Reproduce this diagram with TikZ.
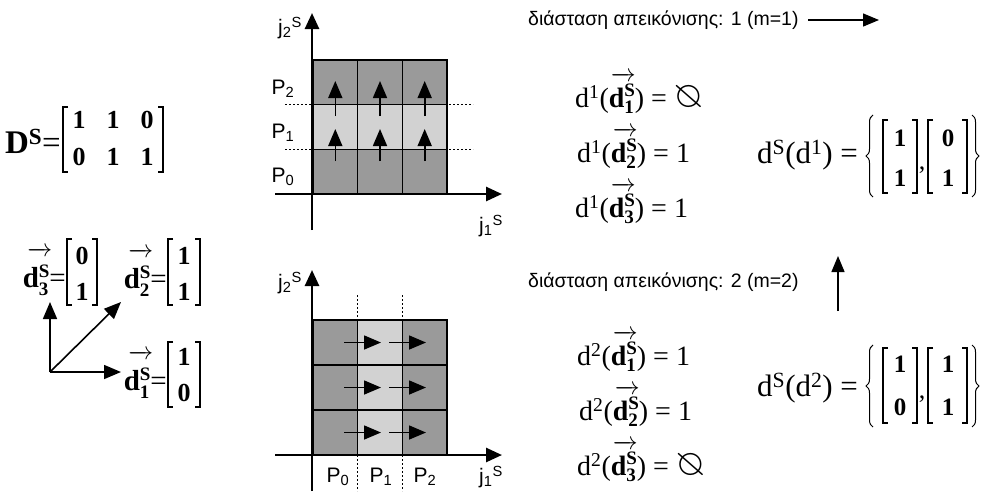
\documentclass[tikz,border=0pt]{standalone}
\usepackage{amssymb,graphicx}
\usepackage{fontspec}
\setmainfont{Liberation Serif}
\setsansfont{Liberation Sans}
\usetikzlibrary{arrows.meta,decorations.pathreplacing}
\definecolor{darkg}{HTML}{9A9A9A}
\definecolor{lightg}{HTML}{D2D2D2}
% vector d with arrow: #1 arrow x-offset, #2 arrow raise, #3 arrow width, #4 sup raise, #5 sub lower, #6 index
\newcommand\vd[6]{\leavevmode\rlap{\hspace{#1}\raisebox{#2}{\fontsize{24}{24}\selectfont\makebox[#3]{\rightarrowfill}}}\textbf{d}\rlap{\raisebox{#4}{\fontsize{19}{19}\selectfont\bfseries S}}\rlap{\raisebox{-#5}{\fontsize{19}{19}\selectfont\bfseries #6}}\hspace{10.5pt}}
\newcommand\nulls{\scalebox{1.35}{\reflectbox{$\varnothing$}}}
\tikzset{
  gridl/.style={line width=1.6pt},
  axisl/.style={line width=2.6pt,-{Triangle[length=16pt,width=14pt]}},
  cellar/.style={line width=1.6pt,-{Triangle[length=17pt,width=14pt]}},
  bigar/.style={line width=1.4pt,-{Triangle[length=16pt,width=13pt]}},
  dots/.style={dash pattern=on 2pt off 2pt,line width=1.6pt},
  brk/.style={line width=1.1pt},
  brc/.style={line width=1.0pt,decorate,decoration={brace,amplitude=7pt}},
  lab/.style={font=\sffamily\fontsize{21}{24}\selectfont,inner sep=0pt},
  grk/.style={font=\sffamily\fontsize{19.5}{23}\selectfont,inner sep=0pt,anchor=west},
  eq/.style={font=\fontsize{28}{32}\selectfont,inner sep=0pt,anchor=west},
  seq/.style={font=\fontsize{31}{35}\selectfont,inner sep=0pt,anchor=west},
  ent/.style={font=\bfseries\fontsize{26}{30}\selectfont,inner sep=0pt},
  sent/.style={font=\bfseries\fontsize{25}{28}\selectfont,inner sep=0pt},
  vlab/.style={font=\fontsize{29}{33}\selectfont,inner sep=0pt,anchor=east},
}
\newcommand\lbrk[3]{\draw[brk] (#1+5,#2) -- (#1,#2) -- (#1,#3) -- (#1+5,#3);}
\newcommand\rbrk[3]{\draw[brk] (#1-5,#2) -- (#1,#2) -- (#1,#3) -- (#1-5,#3);}
\newcommand\rvd[1]{\vd{3pt}{26pt}{23pt}{11pt}{6pt}{#1}}
\newcommand\lvd[1]{\vd{7pt}{31pt}{20pt}{10pt}{8pt}{#1}}
\begin{document}
\begin{tikzpicture}[x=1pt,y=-1pt]
\useasboundingbox (0,0) rectangle (984,491);
% ---------- top grid ----------
\fill[darkg] (313,60) rectangle (447,194);
\fill[lightg] (313,104.67) rectangle (447,149.33);
\draw[dots] (285,104.67) -- (473,104.67);
\draw[dots] (285,149.33) -- (473,149.33);
\draw[gridl] (313,60) rectangle (447,194);
\foreach \x in {357.67,402.33} \draw[gridl] (\x,60) -- (\x,194);
\foreach \y in {104.67,149.33} \draw[gridl] (313,\y) -- (447,\y);
\foreach \x in {335.3,380,424.7}{
  \draw[cellar] (\x,161) -- (\x,129);
  \draw[cellar] (\x,116) -- (\x,81);
}
\draw[axisl] (275,194) -- (502,194);
\draw[axisl] (312,230) -- (312,13);
\node[lab] (j2a) at (290,28) {j\textsubscript{2}\textsuperscript{S}};
\node[lab] (j1a) at (491,226) {j\textsubscript{1}\textsuperscript{S}};
\node[lab] (p2a) at (283,89) {P\textsubscript{2}};
\node[lab] (p1a) at (283,133) {P\textsubscript{1}};
\node[lab] (p0a) at (283,177) {P\textsubscript{0}};
% ---------- bottom grid ----------
\fill[darkg] (313,320) rectangle (447,455);
\fill[lightg] (357.67,320) rectangle (402.33,455);
\draw[dots] (357.67,295) -- (357.67,491);
\draw[dots] (402.33,295) -- (402.33,491);
\draw[gridl] (313,320) rectangle (447,455);
\foreach \x in {357.67,402.33} \draw[gridl] (\x,320) -- (\x,455);
\foreach \y in {365,410} \draw[gridl] (313,\y) -- (447,\y);
\foreach \y in {342.5,387.5,432.5}{
  \draw[cellar] (344,\y) -- (381,\y);
  \draw[cellar] (389,\y) -- (426,\y);
}
\draw[axisl] (275,455) -- (502,455);
\draw[axisl] (312,491) -- (312,270);
\node[lab] (j2b) at (290,283) {j\textsubscript{2}\textsuperscript{S}};
\node[lab] (j1b) at (491,477) {j\textsubscript{1}\textsuperscript{S}};
\node[lab] (p0b) at (338,477) {P\textsubscript{0}};
\node[lab] (p1b) at (381,477) {P\textsubscript{1}};
\node[lab] (p2b) at (425,477) {P\textsubscript{2}};
% ---------- D^S matrix ----------
\node[font=\fontsize{33}{37}\selectfont,inner sep=0pt,anchor=east] (DS) at (61,141) {\textbf{D}\textsuperscript{\textbf{S}}=};
\lbrk{63}{107}{172}\rbrk{163}{107}{172}
\foreach \c/\r/\v in {79/120/1,113/120/1,147/120/0,79/157/0,113/157/1,147/157/1}
  \node[ent] at (\c,\r) {\v};
% ---------- vectors ----------
\coordinate (O) at (50,372);
\coordinate (e3) at (50,302);
\coordinate (e1) at (121,372);
\coordinate (e2) at (121,302);
\draw[cellar] (O) -- (e3);
\draw[cellar] (O) -- (e1);
\draw[cellar] (O) -- (e2);
\node[vlab] (d3) at (66,272) {\lvd{3}=};
\node[vlab] (d2) at (167,272) {\lvd{2}=};
\node[vlab] (d1) at (167,374) {\lvd{1}=};
\lbrk{67}{239}{305}\rbrk{97}{239}{305}
\node[ent] at (82,256) {0}; \node[ent] at (82,292) {1};
\lbrk{168}{239}{305}\rbrk{200}{239}{305}
\node[ent] at (184,256) {1}; \node[ent] at (184,292) {1};
\lbrk{168}{342}{407}\rbrk{200}{342}{407}
\node[ent] at (184,357) {1}; \node[ent] at (184,393) {0};
% ---------- right side, m=1 ----------
\node[grk] (g1) at (528,20) {διάσταση απεικόνισης: 1 (m=1)};
\coordinate (a1s) at (808,20);
\coordinate (a1e) at (879,20);
\draw[bigar] (a1s) -- (a1e);
\node[eq] (e11) at (575,93) {d\textsuperscript{1}(\rvd{1}) = \nulls};
\node[eq] (e12) at (577,148) {d\textsuperscript{1}(\rvd{2}) = 1};
\node[eq] (e13) at (575,203) {d\textsuperscript{1}(\rvd{3}) = 1};
\node[seq] (s1) at (757,155) {d\textsuperscript{S}(d\textsuperscript{1}) =};
\draw[brc] (873,197) -- (873,115);
\draw[brc] (972,115) -- (972,197);
\lbrk{883}{120}{193}\rbrk{917}{120}{193}
\lbrk{928}{120}{193}\rbrk{967}{120}{193}
\node[sent] at (900,138) {1}; \node[sent] at (900,178) {1};
\node[sent] at (948,138) {0}; \node[sent] at (948,178) {1};
\node[font=\fontsize{26}{30}\selectfont,inner sep=0pt] at (922,170) {,};
% ---------- right side, m=2 ----------
\node[grk] (g2) at (528,282) {διάσταση απεικόνισης: 2 (m=2)};
\coordinate (a2s) at (838,311);
\coordinate (a2e) at (838,256);
\draw[bigar] (a2s) -- (a2e);
\node[eq] (e21) at (577,351) {d\textsuperscript{2}(\rvd{1}) = 1};
\node[eq] (e22) at (579,406) {d\textsuperscript{2}(\rvd{2}) = 1};
\node[eq] (e23) at (577,461) {d\textsuperscript{2}(\rvd{3}) = \nulls};
\node[seq] (s2) at (757,388) {d\textsuperscript{S}(d\textsuperscript{2}) =};
\draw[brc] (873,427) -- (873,345);
\draw[brc] (972,345) -- (972,427);
\lbrk{883}{348}{423}\rbrk{917}{348}{423}
\lbrk{928}{348}{423}\rbrk{967}{348}{423}
\node[sent] at (900,364) {1}; \node[sent] at (900,407) {0};
\node[sent] at (948,364) {1}; \node[sent] at (948,407) {1};
\node[font=\fontsize{26}{30}\selectfont,inner sep=0pt] at (922,399) {,};
\end{tikzpicture}
\end{document}
